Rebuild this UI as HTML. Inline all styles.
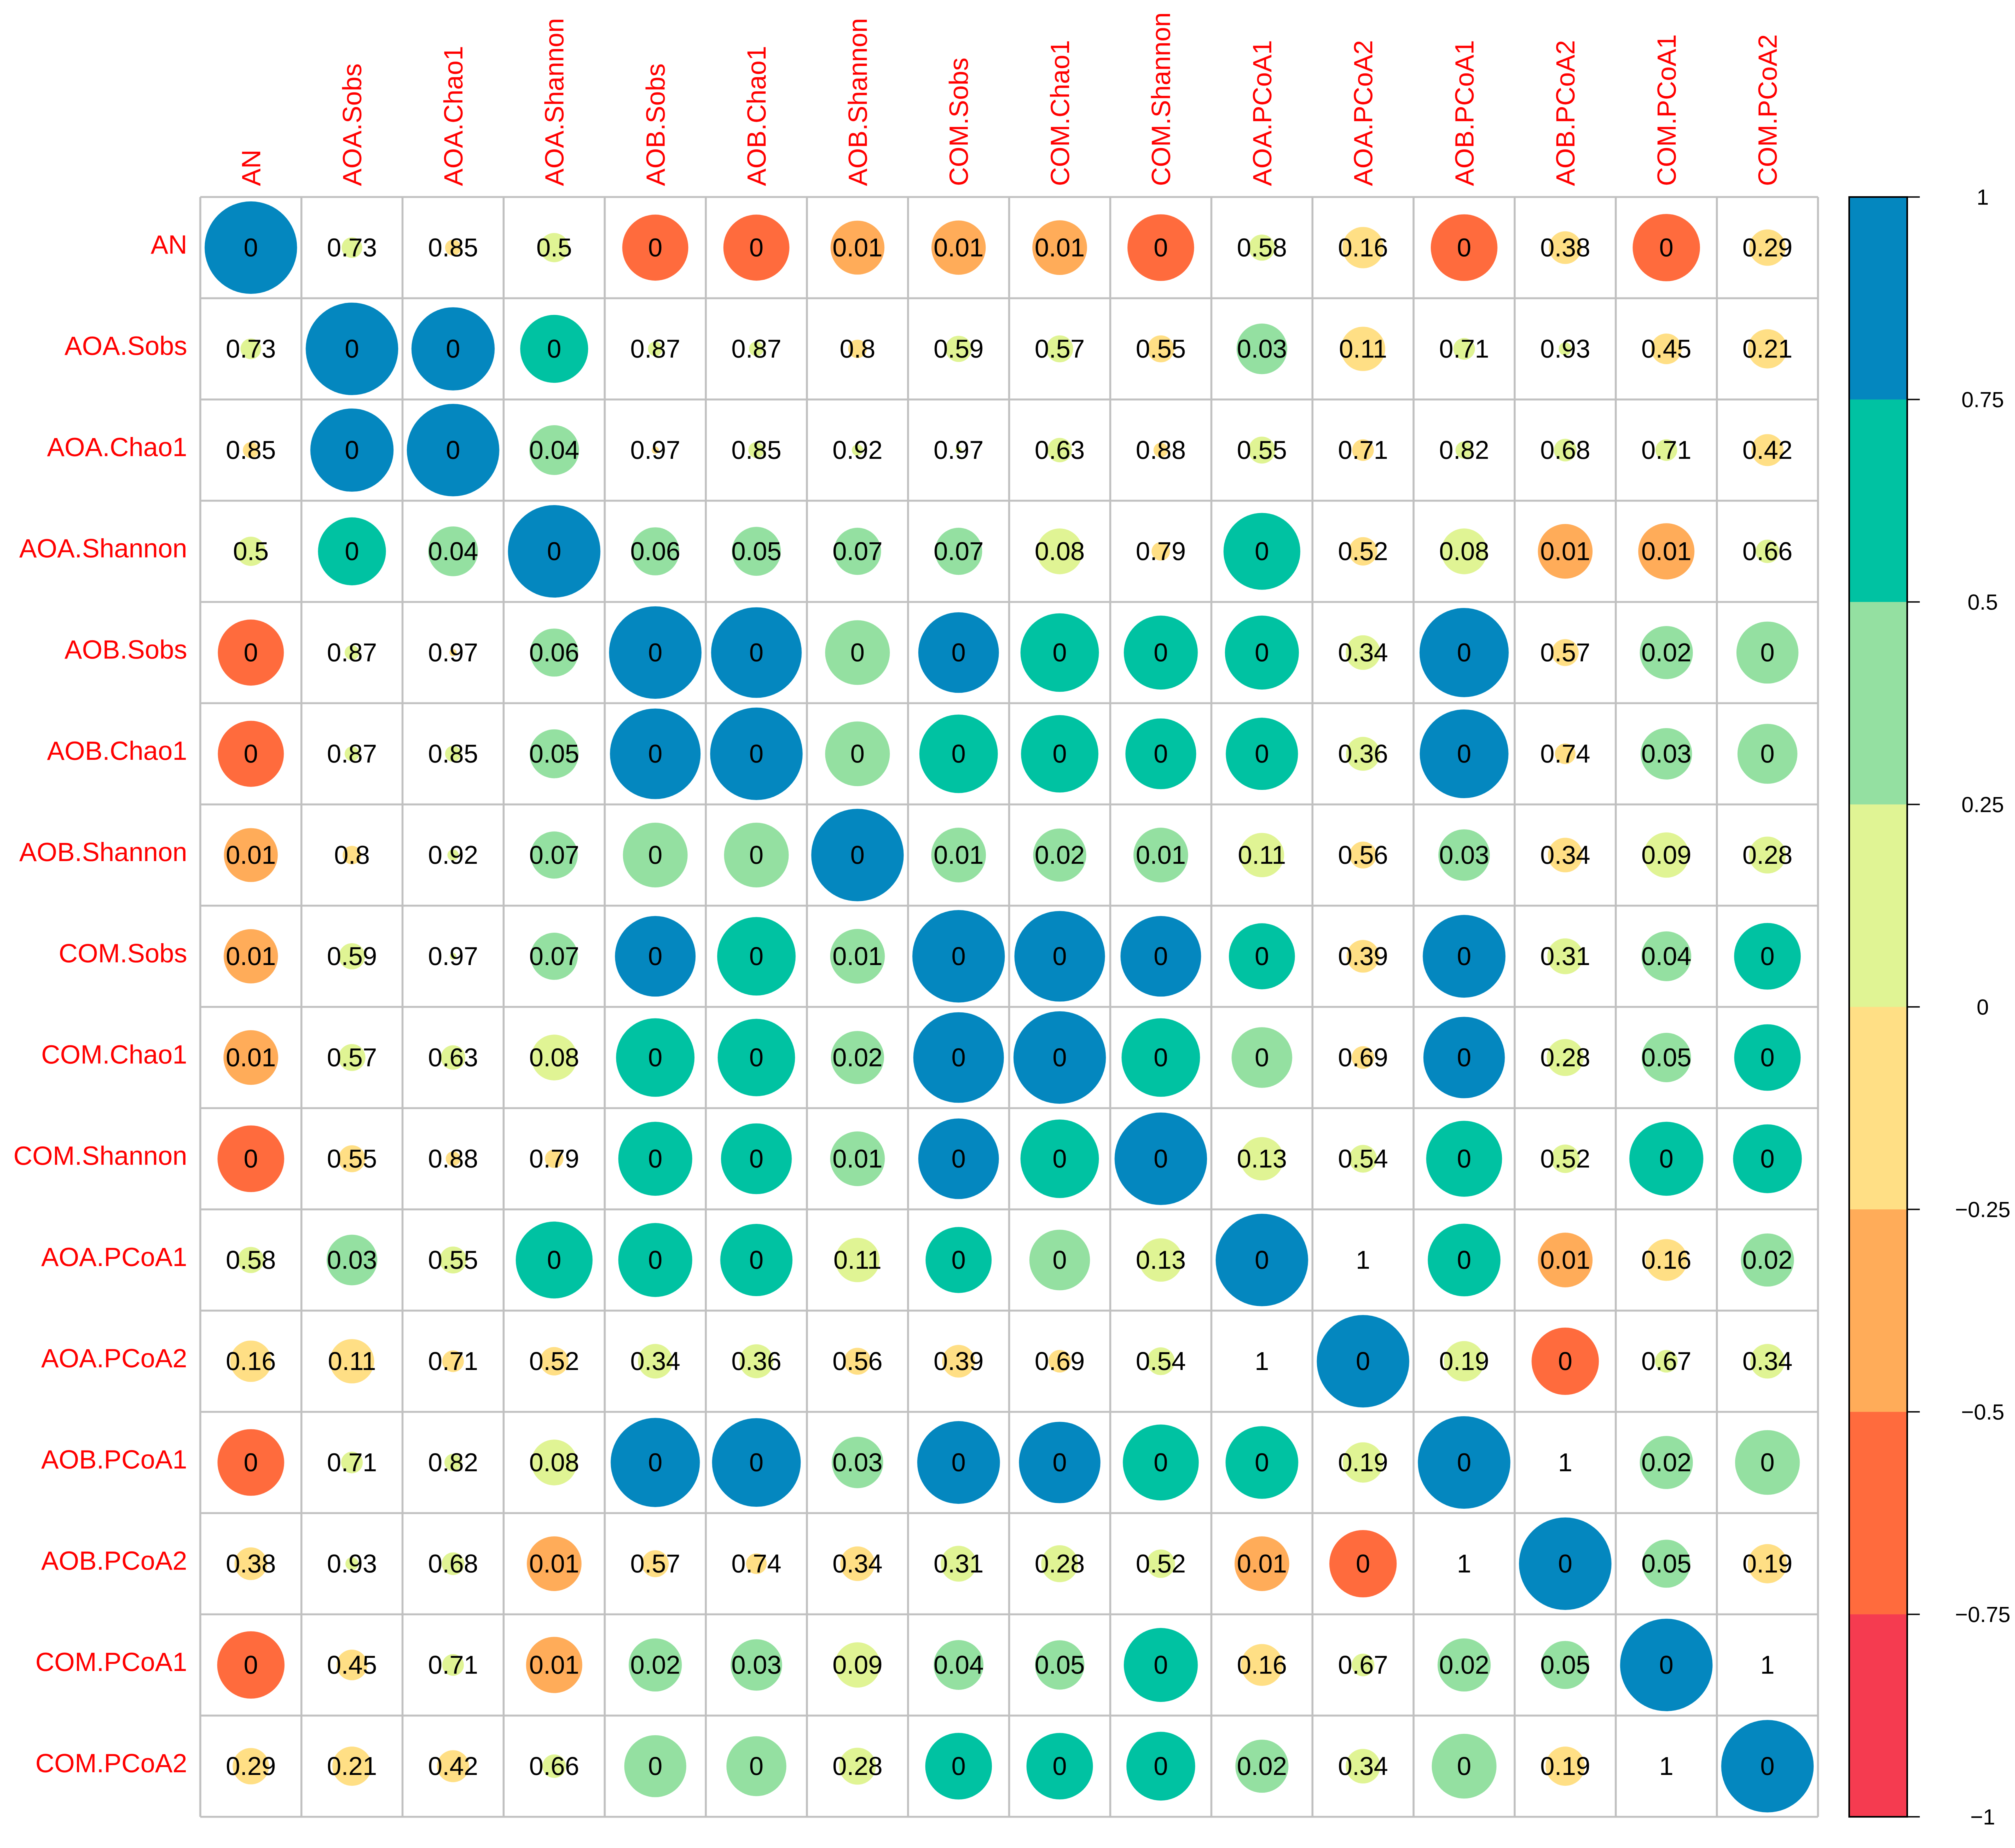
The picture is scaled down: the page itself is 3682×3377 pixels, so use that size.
<!DOCTYPE html>
<html lang="en">
<head>
<meta charset="utf-8">
<title>Correlation matrix</title>
<style>
  html, body { margin: 0; padding: 0; background: #ffffff; }
  #chart { display: block; width: 3682px; height: 3377px; filter: blur(0.7px); font-family: "Liberation Sans", Arial, sans-serif; }
</style>
</head>
<body>
<svg id="chart" xmlns="http://www.w3.org/2000/svg" width="3682" height="3377" viewBox="0 0 3682 3377">
  <rect x="0" y="0" width="3682" height="3377" fill="#ffffff"></rect>
  <g id="circles"></g>
  <g id="grid"></g>
  <g id="values"></g>
  <g id="rowLabels"></g>
  <g id="colLabels"></g>
  <g id="legend"></g>
</svg>
<script>
const variables = ["AN","AOA.Sobs","AOA.Chao1","AOA.Shannon","AOB.Sobs","AOB.Chao1","AOB.Shannon","COM.Sobs","COM.Chao1","COM.Shannon","AOA.PCoA1","AOA.PCoA2","AOB.PCoA1","AOB.PCoA2","COM.PCoA1","COM.PCoA2"];

// Upper triangle of the correlation matrix (sets circle size and colour).
const correlationUpper = [
  [1,.05,-.03,.10,-.51,-.51,-.34,-.345,-.35,-.52,.08,-.20,-.52,-.125,-.53,-.155],
  [1,.81,.54,.025,.025,-.04,.08,.085,-.085,.30,-.23,.055,.02,-.11,-.18],
  [1,.29,-.006,.03,.015,.005,.07,-.025,.085,-.055,.035,.06,.055,-.12],
  [1,.27,.28,.26,.26,.245,-.04,.69,-.095,.245,-.35,-.37,.065],
  [1,.96,.49,.76,.72,.64,.64,.14,.93,-.085,.33,.45],
  [1,.49,.72,.70,.586,.61,.135,.92,-.05,.31,.42],
  [1,.35,.33,.35,.23,-.085,.31,-.14,.24,.16],
  [1,.96,.76,.51,-.125,.80,.15,.29,.52],
  [1,.72,.43,-.06,.776,.16,.285,.517],
  [1,.22,.09,.674,.095,.64,.553],
  [1,0,.618,-.35,-.205,.33],
  [1,.19,-.53,.06,.14],
  [1,0,.33,.49],
  [1,.27,-.18],
  [1,0],
  [1]
];

// Upper triangle of the printed p-values.
const pValueUpper = [
  [0,.73,.85,.5,0,0,.01,.01,.01,0,.58,.16,0,.38,0,.29],
  [0,0,0,.87,.87,.8,.59,.57,.55,.03,.11,.71,.93,.45,.21],
  [0,.04,.97,.85,.92,.97,.63,.88,.55,.71,.82,.68,.71,.42],
  [0,.06,.05,.07,.07,.08,.79,0,.52,.08,.01,.01,.66],
  [0,0,0,0,0,0,0,.34,0,.57,.02,0],
  [0,0,0,0,0,0,.36,0,.74,.03,0],
  [0,.01,.02,.01,.11,.56,.03,.34,.09,.28],
  [0,0,0,0,.39,0,.31,.04,0],
  [0,0,0,.69,0,.28,.05,0],
  [0,.13,.54,0,.52,0,0],
  [0,1,0,.01,.16,.02],
  [0,.19,0,.67,.34],
  [0,1,.02,0],
  [0,.05,.19],
  [0,1],
  [0]
];

const legendTicks = [-1,-0.75,-0.5,-0.25,0,0.25,0.5,0.75,1];
const legendTickLabels = ["\u22121","\u22120.75","\u22120.5","\u22120.25","0","0.25","0.5","0.75","1"];
const binColors = ["#F53B50","#FF6B3D","#FFAC59","#FFDF85","#E0F494","#94E0A1","#00C2A2","#0487BF"];

const SVG_NS = "http://www.w3.org/2000/svg";
const gridLeft = 366, gridTop = 360, cellW = 184.75, cellH = 185, maxRadius = 84.5;
const legendLeft = 3379, legendRight = 3485, legendTickEnd = 3508, legendLabelX = 3623;
const gridRight = gridLeft + cellW * variables.length;
const gridBottom = gridTop + cellH * variables.length;

function colX(i) { return gridLeft + cellW * (i + 0.5); }
function rowY(j) { return gridTop + cellH * (j + 0.5); }
function legendY(v) { return gridBottom - (v + 1) / 2 * (gridBottom - gridTop); }
function radiusOf(r) { return maxRadius * Math.sqrt(Math.abs(r)); }
function colorOf(r) {
  const idx = Math.min(binColors.length - 1, Math.floor((r + 1) / 2 * binColors.length));
  return binColors[idx];
}
function cellValue(tri, i, j) {
  return i <= j ? tri[i][j - i] : tri[j][i - j];
}
function make(tag, parent, attrs, text) {
  const el = document.createElementNS(SVG_NS, tag);
  for (const k in attrs) el.setAttribute(k, attrs[k]);
  if (text !== undefined) el.textContent = text;
  parent.appendChild(el);
  return el;
}

const circlesG = document.getElementById("circles");
const gridG = document.getElementById("grid");
const valuesG = document.getElementById("values");
const rowG = document.getElementById("rowLabels");
const colG = document.getElementById("colLabels");
const legendG = document.getElementById("legend");

// Circles and printed values
variables.forEach(function (rowName, j) {
  variables.forEach(function (colName, i) {
    const r = cellValue(correlationUpper, j, i);
    const p = cellValue(pValueUpper, j, i);
    if (r !== 0) {
      const c = make("circle", circlesG, { cx: colX(i), cy: rowY(j), r: radiusOf(r), fill: colorOf(r) });
      
      
    }
    const t = make("text", valuesG, { x: colX(i), y: rowY(j) + 16, "text-anchor": "middle", "font-size": 47, fill: "#000000" }, String(p));
    
    
  });
});

// Grid
for (let k = 0; k <= variables.length; k++) {
  const v = make("line", gridG, { x1: gridLeft + cellW * k, x2: gridLeft + cellW * k, y1: gridTop, y2: gridBottom, stroke: "#C0C0C0", "stroke-width": 3.6 });
  
  
  const h = make("line", gridG, { x1: gridLeft, x2: gridRight, y1: gridTop + cellH * k, y2: gridTop + cellH * k, stroke: "#C0C0C0", "stroke-width": 3.6 });
  
  
}

// Axis labels
variables.forEach(function (name, k) {
  const rl = make("text", rowG, { x: 342, y: rowY(k) + 11, "text-anchor": "end", "font-size": 48, fill: "#FF0000" }, name);
  
  
  const bx = colX(k) + 17, by = 340;
  const cl = make("text", colG, { x: bx, y: by, transform: "rotate(-90 " + bx + " " + by + ")", "text-anchor": "start", "font-size": 48, fill: "#FF0000" }, name);
  
  
});

// Legend
binColors.forEach(function (color, k) {
  const top = legendY(legendTicks[k + 1]), bottom = legendY(legendTicks[k]);
  const b = make("rect", legendG, { x: legendLeft, y: top, width: legendRight - legendLeft, height: bottom - top, fill: color });
  
  
});
const frame = make("rect", legendG, { x: legendLeft, y: gridTop, width: legendRight - legendLeft, height: gridBottom - gridTop, fill: "none", stroke: "#000000", "stroke-width": 3 });


legendTicks.forEach(function (v, k) {
  const y = legendY(v);
  const tick = make("line", legendG, { x1: legendRight, x2: legendTickEnd, y1: y, y2: y, stroke: "#000000", "stroke-width": 2.6 });
  
  
  const lab = make("text", legendG, { x: legendLabelX, y: y + 14, "text-anchor": "middle", "font-size": 40, fill: "#000000" }, legendTickLabels[k]);
  
  
});
</script>
</body>
</html>
